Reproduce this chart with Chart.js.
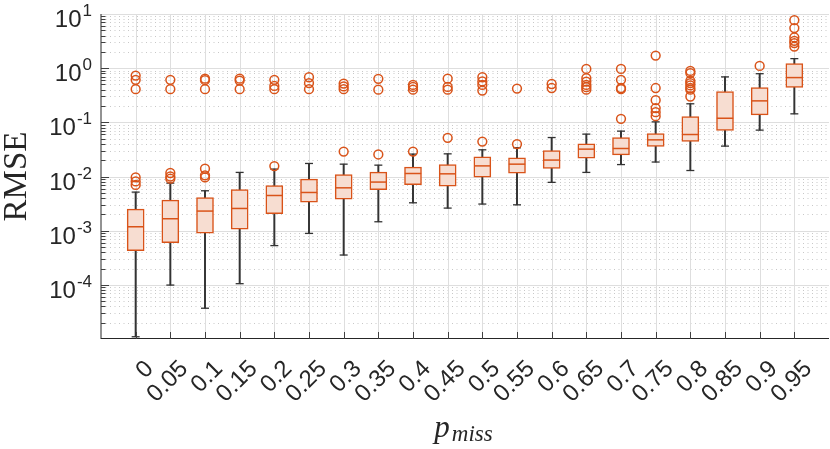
<!DOCTYPE html>
<html>
<head>
<meta charset="utf-8">
<script src="https://cdn.jsdelivr.net/npm/chart.js@4.4.0/dist/chart.umd.min.js"></script>
<style>
  html, body { margin: 0; padding: 0; background: #fff; }
  #wrap { width: 830px; height: 449px; }
</style>
</head>
<body>
<div id="wrap"><canvas id="myChart"></canvas></div>
<script>
// p_miss categories and box statistics (RMSE)
const categories = ['0','0.05','0.1','0.15','0.2','0.25','0.3','0.35','0.4','0.45','0.5','0.55','0.6','0.65','0.7','0.75','0.8','0.85','0.9','0.95'];
const whiskerLow  = [1.1e-5, 9.9e-5, 3.7e-5, 1.05e-4, 5.3e-4, 8.9e-4, 3.55e-4, 1.46e-3, 3.27e-3, 2.61e-3, 3.1e-3, 3.0e-3, 7.8e-3, 0.0119, 0.0166, 0.0185, 0.0129, 0.0364, 0.0718, 0.1435];
const q1          = [4.26e-4, 5.98e-4, 9.03e-4, 1.07e-3, 2.07e-3, 3.37e-3, 3.83e-3, 5.69e-3, 7.03e-3, 6.65e-3, 9.75e-3, 0.01155, 0.0141, 0.0218, 0.0251, 0.0358, 0.0442, 0.0706, 0.137, 0.44];
const median      = [1.18e-3, 1.66e-3, 2.3e-3, 2.57e-3, 4.46e-3, 5.07e-3, 6.18e-3, 7.89e-3, 0.01136, 0.0112, 0.0157, 0.0169, 0.0201, 0.032, 0.0329, 0.0475, 0.0596, 0.119, 0.249, 0.67];
const q3          = [2.5e-3, 3.67e-3, 4.1e-3, 5.76e-3, 6.82e-3, 8.95e-3, 0.0109, 0.01205, 0.0149, 0.01665, 0.0231, 0.0221, 0.0302, 0.0401, 0.0524, 0.0621, 0.128, 0.37, 0.44, 1.22];
const whiskerHigh = [5.15e-3, 7.55e-3, 5.45e-3, 0.0119, 0.0137, 0.0174, 0.0169, 0.0162, 0.0259, 0.0262, 0.0311, 0.0339, 0.0524, 0.0606, 0.0688, 0.102, 0.22, 0.69, 0.79, 1.5];
const outliers = [
  [0.73, 0.61, 0.41, 0.0096, 0.0081, 0.0070],
  [0.61, 0.41, 0.0116, 0.0100, 0.0091],
  [0.64, 0.60, 0.41, 0.0139, 0.0105, 0.0096],
  [0.64, 0.59, 0.41],
  [0.61, 0.47, 0.41, 0.0156],
  [0.68, 0.53, 0.41],
  [0.52, 0.46, 0.41, 0.0289],
  [0.635, 0.40, 0.0255],
  [0.49, 0.45, 0.40, 0.0289],
  [0.64, 0.45, 0.40, 0.0518],
  [0.68, 0.57, 0.49, 0.386, 0.0442],
  [0.42, 0.0396],
  [0.51, 0.43],
  [0.97, 0.654, 0.566, 0.49, 0.446, 0.40],
  [0.97, 0.61, 0.43, 0.41, 0.116],
  [1.71, 0.43, 0.257, 0.183, 0.154, 0.130],
  [0.89, 0.81, 0.58, 0.53, 0.48, 0.43, 0.40, 0.30],
  [],
  [1.10],
  [7.7, 5.5, 3.7, 3.2, 2.9, 2.5]
];
const yDecades = [-4, -3, -2, -1, 0, 1];

const orange = '#D95319';
const boxFill = 'rgb(247,221,209)';
const dark = '#262626';

const xs = categories.map((c, i) => i + 1);
const pts = arr => arr.map((v, i) => ({x: xs[i], y: v}));
let outPts = [];
outliers.forEach((list, i) => list.forEach(v => outPts.push({x: xs[i], y: v})));

function hline(ctx, x1, x2, y) { ctx.beginPath(); ctx.moveTo(x1, y); ctx.lineTo(x2, y); ctx.stroke(); }
function vline(ctx, x, y1, y2) { ctx.beginPath(); ctx.moveTo(x, y1); ctx.lineTo(x, y2); ctx.stroke(); }

const axisDecor = {
  id: 'axisDecor',
  beforeDatasetsDraw(chart) {
    const {ctx, chartArea: a, scales: {x, y}} = chart;
    ctx.save();
    ctx.lineWidth = 1;
    // minor dotted grid
    ctx.strokeStyle = '#c8c8c8';
    ctx.setLineDash([1, 3.5]);
    for (let e = -5; e < 1; e++) {
      for (let m = 2; m < 10; m++) {
        const py = Math.round(y.getPixelForValue(m * Math.pow(10, e))) + 0.5;
        hline(ctx, a.left, a.right, py);
      }
    }
    ctx.setLineDash([]);
    // major grid
    ctx.strokeStyle = '#dedede';
    yDecades.forEach(e => hline(ctx, a.left, a.right, Math.round(y.getPixelForValue(Math.pow(10, e))) + 0.5));
    xs.forEach(v => vline(ctx, Math.round(x.getPixelForValue(v)) + 0.5, a.top, a.bottom));
    ctx.restore();
  },
  afterDatasetsDraw(chart) {
    const {ctx, chartArea: a, scales: {x, y}} = chart;
    ctx.save();
    ctx.strokeStyle = dark;
    ctx.lineWidth = 1;
    // axes
    vline(ctx, a.left, a.top, a.bottom);
    hline(ctx, a.left, a.right, Math.round(a.bottom) - 0.5);
    // y ticks
    ctx.strokeStyle = '#404040';
    for (let e = -5; e < 1; e++) {
      for (let m = 1; m < 10; m++) {
        if (e === -5 && m === 1) continue;
        const py = Math.round(y.getPixelForValue(m * Math.pow(10, e))) + 0.5;
        hline(ctx, a.left, a.left + (m === 1 ? 8 : 4.5), py);
      }
    }
    // x ticks
    xs.forEach(v => vline(ctx, Math.round(x.getPixelForValue(v)) + 0.5, a.bottom, a.bottom - 7));
    // y tick labels 10^n
    ctx.fillStyle = dark;
    ctx.textBaseline = 'alphabetic';
    yDecades.forEach(e => {
      const py = y.getPixelForValue(Math.pow(10, e));
      const exp = String(e);
      ctx.font = '17px "Liberation Sans", Arial, sans-serif';
      const we = ctx.measureText(exp).width;
      const right = 92;
      ctx.textAlign = 'left';
      ctx.fillText(exp, right - we, py + 2);
      ctx.font = '24px "Liberation Sans", Arial, sans-serif';
      ctx.textAlign = 'right';
      ctx.fillText('10', right - we - 1, py + 13);
    });
    // y title
    ctx.save();
    ctx.translate(26, (a.top + a.bottom) / 2);
    ctx.rotate(-Math.PI / 2);
    ctx.font = '33px "Liberation Serif", "Times New Roman", serif';
    ctx.textAlign = 'center';
    ctx.fillText('RMSE', 0, 0);
    ctx.restore();
    // x title p_miss
    ctx.font = 'italic 31px "Liberation Serif", "Times New Roman", serif';
    const wp = ctx.measureText('p').width;
    ctx.font = 'italic 23px "Liberation Serif", "Times New Roman", serif';
    const ws = ctx.measureText('miss').width;
    const cx = (a.left + a.right) / 2;
    let sx = cx - (wp + ws + 1) / 2;
    ctx.textAlign = 'left';
    ctx.font = 'italic 31px "Liberation Serif", "Times New Roman", serif';
    ctx.fillText('p', sx - 2, 437);
    ctx.font = 'italic 23px "Liberation Serif", "Times New Roman", serif';
    ctx.fillText('miss', sx + wp, 441);
    ctx.restore();
  }
};

const data = {
  datasets: [
    {
      type: 'bar',
      data: categories.map((c, i) => ({x: xs[i], y: [whiskerLow[i], whiskerHigh[i]]})),
      backgroundColor: '#333333',
      barThickness: 1.3,
      grouped: false,
      order: 6
    },
    {
      type: 'bar',
      data: categories.map((c, i) => ({x: xs[i], y: [q1[i], q3[i]]})),
      backgroundColor: boxFill,
      borderColor: orange,
      borderWidth: 1.5,
      borderSkipped: false,
      barThickness: 17,
      grouped: false,
      order: 4
    },
    {
      type: 'scatter',
      data: pts(whiskerLow).concat(pts(whiskerHigh)),
      pointStyle: 'line',
      pointRadius: 4,
      pointBorderColor: '#333333',
      pointBorderWidth: 1.3,
      order: 5
    },
    {
      type: 'scatter',
      data: pts(median),
      pointStyle: 'line',
      pointRadius: 8.2,
      pointBorderColor: orange,
      pointBorderWidth: 1.5,
      order: 3
    },
    {
      type: 'scatter',
      data: outPts,
      pointStyle: 'circle',
      pointRadius: 4.4,
      pointBackgroundColor: 'rgba(0,0,0,0)',
      pointBorderColor: orange,
      pointBorderWidth: 1.5,
      order: 2
    }
  ]
};

const config = {
  type: 'bar',
  data: data,
  plugins: [axisDecor],
  options: {
    responsive: true,
    maintainAspectRatio: false,
    animation: false,
    devicePixelRatio: 1,
    layout: { autoPadding: false, padding: { top: 14, right: 1, left: 0, bottom: 0 } },
    plugins: { legend: { display: false }, tooltip: { enabled: false } },
    scales: {
      x: {
        type: 'linear',
        min: 0,
        max: 21,
        offset: false,
        afterBuildTicks: s => { s.ticks = xs.map(v => ({value: v})); },
        afterFit: s => { s.height = 110; s.paddingLeft = 0; s.paddingRight = 0; },
        grid: { display: false, offset: false },
        border: { display: false },
        ticks: {
          autoSkip: false,
          minRotation: 45,
          maxRotation: 45,
          labelOffset: 14,
          padding: 8,
          color: dark,
          font: { family: '"Liberation Sans", Arial, sans-serif', size: 24 },
          callback: v => categories[v - 1] ?? ''
        }
      },
      y: {
        type: 'logarithmic',
        min: 1e-5,
        max: 10,
        afterFit: s => { s.width = 101; s.paddingTop = 0; s.paddingBottom = 0; },
        grid: { display: false },
        border: { display: false },
        ticks: { display: false }
      }
    }
  }
};

const myChart = new Chart(document.getElementById('myChart'), config);
</script>
</body>
</html>
